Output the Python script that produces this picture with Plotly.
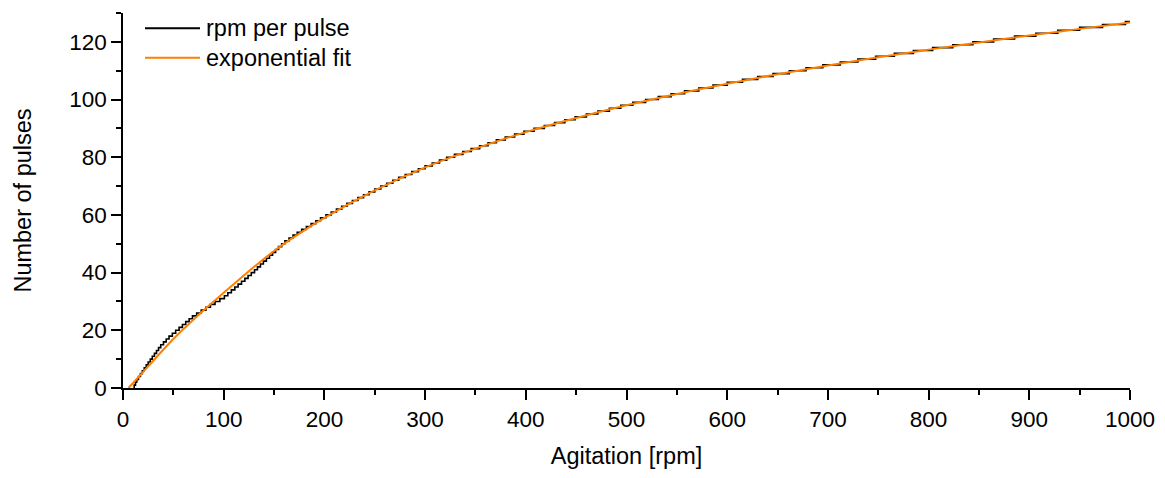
import plotly.graph_objects as go

# ---- data ----
# staircase: number of pulses and the agitation (rpm) at which each count is reached
pulse_counts = list(range(0, 128)) + [127]
pulse_rpm = [
    10.5, 11.1, 12.4, 13.6, 15.35, 17.3, 19.2, 21.1, 23.1, 25.0,
    27.1, 29.1, 31.2, 33.3, 35.3, 37.5, 40.2, 42.9, 45.7, 49.0,
    52.3, 55.7, 59.0, 62.3, 65.7, 69.0, 73.2, 77.7, 82.3, 86.8,
    91.4, 96.2, 100.7, 104.1, 107.6, 111.0, 114.3, 117.7, 121.0, 124.2,
    127.4, 130.6, 133.5, 136.5, 139.4, 142.4, 145.5, 148.5, 151.5, 154.5,
    157.6, 160.8, 164.9, 168.9, 173.0, 177.4, 182.1, 186.8, 191.5, 196.2,
    201.6, 206.8, 212.0, 217.2, 222.4, 227.8, 233.3, 238.9, 244.4, 250.0,
    256.0, 261.9, 267.9, 273.8, 280.3, 286.8, 293.4, 300.0, 307.1, 314.3,
    321.4, 329.2, 337.5, 345.8, 354.2, 362.5, 370.8, 379.6, 388.9, 398.1,
    408.2, 418.4, 428.6, 438.8, 449.0, 460.2, 471.6, 483.0, 494.3, 506.3,
    519.0, 531.6, 544.3, 557.7, 571.8, 585.9, 600.0, 615.2, 630.3, 645.5,
    661.7, 678.3, 695.0, 712.3, 729.8, 747.4, 766.0, 784.9, 804.0, 824.0,
    844.0, 864.6, 885.4, 906.5, 928.3, 950.0, 972.7, 995.5, 1000.0,
]

# exponential fit, read at regular agitation values
fit_rpm = [5.5, 25, 50, 75, 100, 125, 150, 175, 200, 250, 300, 350, 400,
           450, 500, 550, 600, 650, 700, 750, 800, 850, 900, 950, 1000]
fit_pulses = [0, 7.5, 17, 25.3, 33, 40.5, 47.5, 53.5, 59, 68.5, 76.5, 83.0, 88.7,
              93.6, 98.0, 101.95, 105.5, 108.8, 111.8, 114.65, 117.3, 119.8, 122.2, 124.5, 126.7]

x_ticks = [0, 100, 200, 300, 400, 500, 600, 700, 800, 900, 1000]
y_ticks = [0, 20, 40, 60, 80, 100, 120]

series_names = ["rpm per pulse", "exponential fit"]
BLACK = "#000000"
ORANGE = "#FF8000"
FONT = "Liberation Sans, Arial, sans-serif"

# page offset of the figure (default body margin of the html page)
OFF = 8
W, H = 1165 - 2 * OFF, 478 - 2 * OFF
# plot area in page pixels: x 123..1130, y 13..388
ml = 123 - OFF
mt = 13 - OFF
pw, ph = 1130 - 123, 388 - 13
mr = W - ml - pw
mb = H - mt - ph

fig = go.Figure()
fig.add_trace(go.Scatter(x=pulse_rpm, y=pulse_counts, mode="lines", name=series_names[0],
                         line=dict(color=BLACK, width=1.6, shape="hv"), showlegend=False))
fig.add_trace(go.Scatter(x=fit_rpm, y=fit_pulses, mode="lines", name=series_names[1],
                         line=dict(color=ORANGE, width=2, shape="spline", smoothing=1.0),
                         showlegend=False))


def page_to_paper(px, py):
    return (px - OFF - ml) / pw, 1 - (py - OFF - mt) / ph


# custom legend (lines + text) in paper coordinates
for i, (name, col) in enumerate(zip(series_names, [BLACK, ORANGE])):
    ypix = 28.3 + i * 29.5
    x0, yy = page_to_paper(145, ypix)
    x1, _ = page_to_paper(200, ypix)
    fig.add_shape(type="line", xref="paper", yref="paper", x0=x0, x1=x1, y0=yy, y1=yy,
                  line=dict(color=col, width=2))
    xt, _ = page_to_paper(204, ypix)
    fig.add_annotation(xref="paper", yref="paper", x=xt, y=yy, text=name, showarrow=False,
                       xanchor="left", yanchor="middle",
                       font=dict(size=23.5, color="black", family=FONT))

axis_common = dict(showline=True, linecolor="black", linewidth=1.5, ticks="outside",
                   ticklen=10, tickwidth=1.5, tickcolor="black", showgrid=False, zeroline=False,
                   tickfont=dict(size=22.5, color="black", family=FONT), mirror=False)

fig.update_xaxes(range=[0, 1000], tickvals=x_ticks, ticktext=[str(v) for v in x_ticks],
                 title=dict(text="Agitation [rpm]", font=dict(size=23.5, color="black", family=FONT),
                            standoff=17),
                 minor=dict(ticks="outside", ticklen=5, tickwidth=1.5, tickcolor="black", dtick=50, tick0=0),
                 **axis_common)
fig.update_yaxes(range=[0, 130], tickvals=y_ticks, ticktext=[str(v) for v in y_ticks],
                 title=dict(text="Number of pulses", font=dict(size=23.5, color="black", family=FONT),
                            standoff=31),
                 minor=dict(ticks="outside", ticklen=5, tickwidth=1.5, tickcolor="black", dtick=10, tick0=0),
                 **axis_common)

fig.update_layout(width=W, height=H, margin=dict(l=ml, r=mr, t=mt, b=mb, autoexpand=False),
                  plot_bgcolor="white", paper_bgcolor="white",
                  font=dict(family=FONT, color="black"))

fig.write_html("out.html")
